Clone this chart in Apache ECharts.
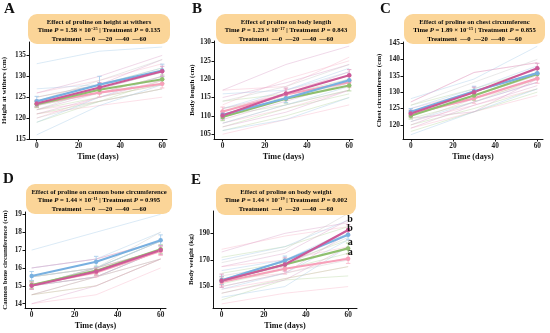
<!DOCTYPE html>
<html><head><meta charset="utf-8">
<script src="https://cdn.jsdelivr.net/npm/echarts@6/dist/echarts.min.js"></script>
<style>html,body{margin:0;padding:0;background:#fff}#c{width:550px;height:333px}</style>
</head><body><div id="c"></div>
<script>
// ---------------- DATA ----------------
const days = [0, 30, 60];
const treatments = ['0', '20', '40', '60'];
const xTicks = [0, 20, 40, 60];

// A: height at withers
const heightTicks = [115, 120, 125, 130, 135];
const heightMeans = [[123.4, 126.1, 128.2], [123.3, 126.8, 129.3], [124.0, 128.0, 131.4], [123.5, 127.3, 131.2]];
const heightSE = [[0.8, 1.0, 1.0], [0.8, 1.0, 1.0], [1.2, 2.0, 1.5], [0.8, 1.2, 1.2]];
const heightInd = [
  [126,129,133],[124,127,129],[122,124,127],[121,123,125],[120,125,128],
  [125,128,132],[123,126,130],[122,125,128],[121,124,127],[119,124,129],
  [133,136,137],[127,128,132],[124,128,131],[119,125,130],[116,123,128],
  [126,130,135],[125,128,134],[123,127,131],[122,126,130],[121,125,129],
  [124,129,134],[123,126,128],[122,127,131],[120,124,127]];

// B: body length
const lengthTicks = [105, 110, 115, 120, 125, 130];
const lengthMeans = [[111.2, 115.8, 119.2], [109.7, 114.7, 118.3], [110.3, 114.8, 119.7], [110.1, 116.1, 121.1]];
const lengthSE = [[1.2, 1.5, 1.5], [1.0, 1.2, 1.5], [1.0, 1.2, 1.5], [1.0, 1.5, 1.5]];
const lengthInd = [
  [117,118,126],[113,120,125],[111,117,121],[108,112,117],[105,109,113],
  [114,116,120],[112,115,119],[110,113,117],[107,112,116],[106,110,115],
  [116,117,122],[112,117,123],[110,115,120],[108,113,118],[106,109,115],
  [117,124,129],[115,119,124],[112,116,122],[109,114,119],[107,111,117],
  [114,118,124],[110,116,121],[108,113,117]];

// C: chest circumference
const chestTicks = [120, 125, 130, 135, 140, 145];
const chestMeans = [[123.3, 128.1, 134.2], [122.8, 129.0, 135.5], [124.0, 130.3, 135.8], [123.5, 130.0, 137.3]];
const chestSE = [[1.0, 1.5, 1.5], [1.0, 1.5, 1.5], [1.0, 1.5, 1.5], [1.0, 1.5, 1.5]];
const chestInd = [
  [127,136,139],[125,130,136],[123,128,133],[121,126,131],[119,124,129],
  [126,131,137],[124,129,136],[122,127,134],[120,125,131],[118,124,130],
  [128,134,144],[125,131,138],[123,130,136],[121,127,133],[117,124,131],
  [127,136,139],[124,130,137],[122,124,134],[120,127,133],[119,126,132],
  [126,133,140],[123,129,135],[121,128,134]];

// D: cannon bone circumference
const cannonTicks = [14, 15, 16, 17, 18, 19];
const cannonMeans = [[15.05, 15.75, 16.95], [15.05, 15.85, 17.05], [15.55, 16.35, 17.55], [15.0, 15.8, 17.0]];
const cannonSE = [[0.25, 0.25, 0.25], [0.2, 0.25, 0.25], [0.25, 0.3, 0.3], [0.2, 0.2, 0.25]];
const cannonInd = [
  [16,16.5,17.5],[15.5,16,17],[15,15.5,17],[14.5,15,16.5],[14,14.5,16],
  [15.5,16,17.5],[15,16,17],[15,15.5,17],[14.5,15.5,16.5],[14.5,15,16.5],
  [17,18,19],[16,16.5,18],[15.5,16,17.5],[15,16,17.5],[15,15.5,17],
  [16,16.5,17.5],[15,16,17],[15,15.5,17],[14.5,15.5,16.5],[14,15,16.5],
  [15.5,16,18],[15,16,17.5]];

// E: body weight
const weightTicks = [150, 170, 190];
const weightMeans = [[153.5, 163.4, 170.9], [154.5, 166.6, 178.7], [154.7, 169.4, 189.0], [154.4, 166.6, 192.5]];
const weightSE = [[3, 4, 3.5], [3, 4, 4], [3, 3.5, 3.5], [5, 5, 4]];
const weightLetters = ['a', 'a', 'b', 'b'];
const weightInd = [
  [178,188,195],[165,170,180],[155,160,172],[148,156,165],[137,145,150],
  [172,180,195],[160,168,185],[152,163,175],[145,156,165],[140,155,158],
  [170,180,200],[162,170,192],[155,170,190],[148,160,185],[142,150,180],
  [176,190,198],[165,175,200],[155,165,192],[150,160,190],[145,155,180],
  [168,178,205],[158,166,187],[150,160,170]];

const titles = ['Effect of proline on height at withers', 'Effect of proline on body length',
  'Effect of proline on chest circumferenc', 'Effect of proline on cannon bone circumference',
  'Effect of proline on body weight'];
const timeP = [['1.58', '−25'], ['1.23', '−17'], ['1.89', '−15'], ['1.44', '−11'], ['1.44', '−19']];
const treatP = ['0.135', '0.843', '0.855', '0.995', '0.002'];
const yNames = ['Height at withers (cm)', 'Body length (cm)', 'Chest circumferenc (cm)',
  'Cannon bone circumference (cm)', 'Body weight (kg)'];
const panelLetters = ['A', 'B', 'C', 'D', 'E'];

// ---------------- STYLE / LAYOUT ----------------
const FONT = '"Liberation Serif","DejaVu Serif",serif';
const meanColors = ['#f7a0b9', '#8fbf6e', '#78b0e0', '#cc5a98'];
const faintColors = ['#f7b8ca', '#b9d9a4', '#a9cce9', '#dba3c9', '#c9c9c9'];
const errColors = ['#f9bccd', '#b3d69c', '#a9cdec', '#e0a0c4'];

const panels = [
  {means: heightMeans, se: heightSE, ind: heightInd, ticks: heightTicks,
   grid: {left: 28, top: 42, width: 139, height: 97}, xr: [-3.7, 62.3], yr: [115, 138.2], nameGap: 21,
   box: {x: 28, y: 14, w: 142, h: 30}, letterPos: [4, 2]},
  {means: lengthMeans, se: lengthSE, ind: lengthInd, ticks: lengthTicks,
   grid: {left: 214, top: 41, width: 139, height: 98}, xr: [-4.1, 61.8], yr: [103.7, 130.4], nameGap: 18,
   box: {x: 216, y: 14, w: 140, h: 30}, letterPos: [192, 2]},
  {means: chestMeans, se: chestSE, ind: chestInd, ticks: chestTicks,
   grid: {left: 403, top: 42, width: 140, height: 97}, xr: [-3.7, 62.7], yr: [115.7, 145.3], nameGap: 20,
   box: {x: 404, y: 14, w: 141, h: 30}, letterPos: [380, 2]},
  {means: cannonMeans, se: cannonSE, ind: cannonInd, ticks: cannonTicks,
   grid: {left: 25, top: 212, width: 141, height: 96}, xr: [-3.1, 62.5], yr: [13.76, 19.13], nameGap: 16,
   box: {x: 26, y: 184, w: 146, h: 30}, letterPos: [3, 172]},
  {means: weightMeans, se: weightSE, ind: weightInd, ticks: weightTicks, letters: weightLetters,
   grid: {left: 213, top: 211, width: 144, height: 97}, xr: [-4.1, 64.2], yr: [133.9, 206.8], nameGap: 18,
   box: {x: 216, y: 184, w: 140, h: 31}, letterPos: [191, 173]}
];

function errRender(params, api) {
  const x = api.value(0), m = api.value(1), e = api.value(2);
  const top = api.coord([x, m + e]), bot = api.coord([x, m - e]);
  const w = 2.2;
  const st = {stroke: api.visual('color'), lineWidth: 0.9, fill: null};
  return {type: 'group', children: [
    {type: 'line', shape: {x1: top[0], y1: top[1], x2: bot[0], y2: bot[1]}, style: st},
    {type: 'line', shape: {x1: top[0] - w, y1: top[1], x2: top[0] + w, y2: top[1]}, style: st},
    {type: 'line', shape: {x1: bot[0] - w, y1: bot[1], x2: bot[0] + w, y2: bot[1]}, style: st}
  ]};
}

const grids = [], xAxes = [], yAxes = [], series = [], graphics = [];
const axisText = {fontFamily: FONT, fontWeight: 'bold', fontSize: 7.3, color: '#222'};

panels.forEach((p, i) => {
  grids.push(p.grid);
  xAxes.push({type: 'value', gridIndex: i, min: p.xr[0], max: p.xr[1],
    name: 'Time (days)', nameLocation: 'middle', nameGap: 14,
    nameTextStyle: {fontFamily: FONT, fontWeight: 'bold', fontSize: 8.2, color: '#111'},
    axisLine: {show: true, onZero: false, lineStyle: {color: '#111', width: 1}},
    axisTick: {show: true, length: 2.5, customValues: xTicks, lineStyle: {color: '#111'}},
    axisLabel: Object.assign({customValues: xTicks, margin: 4}, axisText),
    splitLine: {show: false}});
  yAxes.push({type: 'value', gridIndex: i, min: p.yr[0], max: p.yr[1],
    name: yNames[i], nameLocation: 'middle', nameGap: p.nameGap,
    nameTextStyle: {fontFamily: FONT, fontWeight: 'bold', fontSize: 7, color: '#111'},
    axisLine: {show: true, onZero: false, lineStyle: {color: '#111', width: 1}},
    axisTick: {show: true, length: 2.5, customValues: p.ticks, lineStyle: {color: '#111'}},
    axisLabel: Object.assign({customValues: p.ticks, margin: 3}, axisText),
    splitLine: {show: false}});

  // individual animals
  p.ind.forEach((row, k) => {
    const g = k < 20 ? Math.floor(k / 5) : 4;
    series.push({type: 'line', xAxisIndex: i, yAxisIndex: i, silent: true, symbol: 'none', z: 1,
      lineStyle: {color: faintColors[g], width: 0.7, opacity: 0.6},
      data: days.map((d, j) => [d, row[j]])});
  });
  // error bars
  p.means.forEach((m, t) => {
    series.push({type: 'custom', xAxisIndex: i, yAxisIndex: i, silent: true, z: 2,
      itemStyle: {color: errColors[t]}, renderItem: errRender, encode: {x: 0, y: 1},
      data: days.map((d, j) => [d, m[j], p.se[t][j]])});
  });
  // means
  p.means.forEach((m, t) => {
    const data = days.map((d, j) => [d, m[j]]);
    if (p.letters) {
      data[2] = {value: [days[2], m[2]], label: {show: true, formatter: p.letters[t],
        position: 'top', distance: t === 3 ? 3 : -1, offset: [2, 0],
        fontFamily: FONT, fontWeight: 'bold', fontSize: 10, color: '#111'}};
    }
    series.push({type: 'line', xAxisIndex: i, yAxisIndex: i, silent: true, z: 3,
      symbol: 'circle', symbolSize: 4.5,
      itemStyle: {color: meanColors[t]}, lineStyle: {color: meanColors[t], width: 2.1},
      data: data});
  });

  // legend box
  const b = p.box, cx = b.x + b.w / 2;
  graphics.push({type: 'rect', left: b.x, top: b.y, z: 10,
    shape: {width: b.w, height: b.h, r: 9}, style: {fill: '#fbd598', stroke: null}});
  const rich = {
    b: {fontFamily: FONT, fontWeight: 'bold', fontSize: 6.7, color: '#111'},
    i: {fontFamily: FONT, fontWeight: 'bold', fontStyle: 'italic', fontSize: 6.7, color: '#111'},
    s: {fontFamily: FONT, fontWeight: 'bold', fontSize: 4.3, color: '#111', verticalAlign: 'top', padding: [0, 0, 3, 0]},
    c0: {fontFamily: FONT, fontWeight: 'bold', fontSize: 7, color: meanColors[0]},
    c1: {fontFamily: FONT, fontWeight: 'bold', fontSize: 7, color: meanColors[1]},
    c2: {fontFamily: FONT, fontWeight: 'bold', fontSize: 7, color: meanColors[2]},
    c3: {fontFamily: FONT, fontWeight: 'bold', fontSize: 7, color: meanColors[3]}
  };
  graphics.push({type: 'text', x: cx, y: b.y + 8.5, z: 11,
    style: {text: titles[i], fontFamily: FONT, fontWeight: 'bold', fontSize: 6.7, fill: '#111',
      align: 'center', verticalAlign: 'middle'}});
  graphics.push({type: 'text', x: cx, y: b.y + 16.5, z: 11,
    style: {text: '{b|Time }{i|P}{b| = ' + timeP[i][0] + ' × 10}{s|' + timeP[i][1] + '}{b| | Treatment }{i|P}{b| = ' + treatP[i] + '}',
      rich: rich, align: 'center', verticalAlign: 'middle'}});
  let leg = '{b|Treatment  }';
  treatments.forEach((t, k) => { leg += '{c' + k + '|—}{b|' + t + (k < 3 ? '  ' : '') + '}'; });
  graphics.push({type: 'text', x: cx, y: b.y + 25.5, z: 11,
    style: {text: leg, rich: rich, align: 'center', verticalAlign: 'middle'}});
  // panel letter
  graphics.push({type: 'text', left: p.letterPos[0], top: p.letterPos[1], z: 11,
    style: {text: panelLetters[i], fontFamily: FONT, fontWeight: 'bold', fontSize: 15, fill: '#111'}});
});

const chart = echarts.init(document.getElementById('c'), null, {renderer: 'canvas'});
chart.setOption({
  animation: false, backgroundColor: '#fff',
  grid: grids, xAxis: xAxes, yAxis: yAxes, series: series, graphic: graphics
});
</script></body></html>
